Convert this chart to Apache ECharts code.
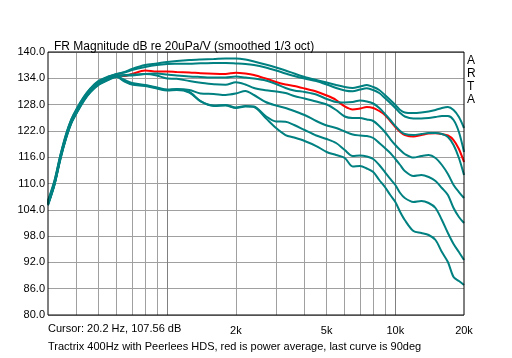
<!DOCTYPE html>
<html><head><meta charset="utf-8">
<script src="https://cdn.jsdelivr.net/npm/echarts@6/dist/echarts.min.js"></script>
<style>html,body{margin:0;padding:0;background:#fff}#c{width:512px;height:358px}</style>
</head><body><div id="c"></div>
<script>
const freqs = [300,320,340,360,380,400,430,460,500,550,600,650,700,800,900,1000,1100,1250,1400,1600,1800,2000,2200,2400,2700,3000,3300,3600,4000,4500,5000,5500,6000,6500,7000,7500,8000,8500,9000,9500,10000,10500,11000,12000,13000,14000,15000,16000,17000,18000,19000,20000];

const curve0 = [106.1,110.6,116.5,121.3,124.7,127.0,129.7,131.7,133.4,134.4,135.0,
  135.44,136.12,137.03,137.38,137.72,137.95,138.17,138.29,138.40,138.52,
  138.52,138.29,137.83,137.15,136.46,135.78,135.09,134.30,133.61,133.04,
  132.47,132.01,131.79,132.13,132.47,132.01,131.33,130.19,129.05,127.91,
  126.77,126.20,126.08,126.20,126.43,126.77,127.22,127.45,126.77,125.17,
  122.66];
const curve1 = [105.9,110.4,116.4,121.1,124.6,126.8,129.6,131.6,133.3,134.3,135.0,
  135.32,135.89,136.58,137.03,137.26,137.31,137.33,137.42,137.49,137.49,
  137.38,137.26,137.03,136.46,135.78,135.09,134.52,133.95,133.38,132.59,
  131.79,131.22,131.03,131.44,131.72,131.33,130.65,129.51,128.36,127.22,
  126.08,125.29,124.83,124.83,124.94,125.17,125.40,125.40,124.49,121.75,
  117.19];
const curve2 = [105.5,110.0,116.0,120.7,124.2,126.4,129.2,131.2,132.9,134.0,134.6,
  134.75,134.87,134.98,135.09,134.87,134.64,134.41,134.30,134.18,134.18,
  134.41,134.18,133.95,133.50,132.70,131.79,131.22,130.87,130.30,129.28,
  128.59,128.48,128.59,128.94,128.71,128.25,127.22,125.86,124.49,123.12,
  121.98,121.29,121.06,121.29,121.52,121.52,121.29,120.61,118.78,115.82,
  111.94];
const curve3 = [105.4,109.9,115.9,120.6,124.1,126.3,129.1,131.1,132.8,133.9,134.5,
  134.64,134.64,134.98,134.64,133.95,133.89,133.38,133.00,132.65,132.54,
  133.11,132.59,131.79,131.29,130.99,130.65,129.96,129.39,128.71,128.02,
  126.77,125.29,124.94,124.94,124.60,124.26,123.12,121.75,120.15,118.78,
  117.64,116.73,115.93,116.27,116.50,115.82,114.22,112.17,109.66,108.06,
  106.69];
const curve4 = [105.3,109.8,115.8,120.5,124.0,126.2,129.0,131.0,132.7,133.8,134.4,
  133.61,132.93,132.47,131.90,131.44,131.56,131.33,130.53,130.42,130.19,
  130.53,131.10,130.19,128.59,127.79,127.22,126.54,125.63,124.26,123.23,
  122.66,121.86,121.18,120.95,120.84,120.38,119.24,118.10,116.96,115.59,
  114.22,112.85,111.71,111.94,111.48,110.57,108.97,107.38,104.41,102.36,
  100.99];
const curve5 = [105.2,109.7,115.7,120.4,123.9,126.1,128.9,130.9,132.6,133.7,134.4,
  133.38,132.70,132.36,131.79,131.33,131.44,130.87,128.82,127.79,127.91,
  127.34,127.68,127.57,125.40,124.14,124.10,123.35,122.21,120.95,120.15,
  119.24,117.64,116.27,116.39,116.16,115.59,114.22,112.62,111.03,109.66,
  107.83,106.69,105.78,106.01,105.55,104.41,101.67,98.71,96.20,94.37,
  92.55];
const curve6 = [105.0,109.6,115.5,120.3,123.8,126.0,128.8,130.8,132.5,133.6,134.3,
  133.27,132.59,132.24,131.67,131.22,131.33,130.76,128.71,127.68,127.79,
  127.22,127.57,127.45,124.94,122.66,121.06,120.49,119.70,118.55,117.19,
  116.50,115.82,113.88,113.99,113.42,112.62,110.80,109.20,107.38,105.78,
  103.50,101.67,99.16,98.71,98.25,97.11,94.37,92.09,88.67,87.76,
  86.84];
const powerAverage = [105.55,110.11,116.05,120.84,124.26,126.54,129.28,131.33,133.04,134.07,134.75,
  134.52,134.98,135.78,135.55,135.55,135.44,135.32,135.16,135.03,134.98,
  135.28,135.09,134.75,133.95,133.16,132.59,132.24,131.67,130.99,130.08,
  129.05,127.57,126.88,127.11,127.45,127.22,126.54,125.63,124.26,122.89,
  121.75,121.06,120.72,121.06,121.41,121.45,121.29,120.95,119.92,117.87,
  114.90];

const yTicks = [80,86,92,98,104,110,116,122,128,134,140];
const gridFreqs = [400,500,600,700,800,900,1000,2000,3000,4000,5000,6000,7000,8000,9000,10000];
const majorFreqs = [1000,10000];
const labelFreqs = [2000,5000,10000,20000];

const tealCurves = [curve0,curve1,curve2,curve3,curve4,curve5,curve6];
const FONT = 'Liberation Sans, Arial, sans-serif';
const toXY = arr => freqs.map((f,i)=>[Math.log10(f), arr[i]]);

const series = [];
series.push({type:'line', data: toXY(powerAverage), showSymbol:false, smooth:0.3, silent:true,
  lineStyle:{color:'#ff0000', width:2}, z:2});
tealCurves.forEach(c => series.push({type:'line', data: toXY(c), showSymbol:false, smooth:0.3, silent:true,
  lineStyle:{color:'#008080', width:2}, z:3}));

const chart = echarts.init(document.getElementById('c'), null, {renderer:'canvas'});
chart.setOption({
  animation:false,
  backgroundColor:'#ffffff',
  title:{text:'FR Magnitude dB re 20uPa/V (smoothed 1/3 oct)', left:49, top:36,
    textStyle:{fontSize:12, fontWeight:'normal', color:'#000', fontFamily:FONT}},
  grid:{left:48, right:48, top:52, bottom:43, show:true, borderColor:'#000', borderWidth:1, backgroundColor:'transparent', z:5},
  xAxis:{type:'value', min:Math.log10(300), max:Math.log10(20000),
    axisLine:{show:false},
    axisTick:{show:false, customValues: gridFreqs.map(f=>Math.log10(f))},
    splitLine:{show:true, lineStyle:{width:1, color: gridFreqs.map(f=>majorFreqs.includes(f)?'#808080':'#a0a0a0')}},
    axisLabel:{customValues: labelFreqs.map(f=>Math.log10(f)), formatter: v => Math.round(Math.pow(10,v)/1000)+'k',
      fontSize:11, color:'#000', margin:10, fontFamily:FONT}},
  yAxis:{type:'value', min:80, max:140,
    axisLine:{show:false},
    axisTick:{show:false, customValues: yTicks},
    splitLine:{show:true, lineStyle:{width:1, color:'#a0a0a0'}},
    axisLabel:{customValues: yTicks, formatter: v => v.toFixed(1), fontSize:11, color:'#000', margin:3, fontFamily:FONT}},
  graphic:[
    {type:'text', left:48, top:323, style:{text:'Cursor: 20.2 Hz, 107.56 dB', fontSize:11, fill:'#000', fontFamily:FONT}},
    {type:'text', left:48, top:341, style:{text:'Tractrix 400Hz with Peerlees HDS, red is power average, last curve is 90deg', fontSize:11, fill:'#000', fontFamily:FONT}},
    {type:'text', left:467, top:54, style:{text:'A\nR\nT\nA', fontSize:12, lineHeight:13, fill:'#000', fontFamily:FONT}}
  ],
  series: series
});
</script>
</body></html>
